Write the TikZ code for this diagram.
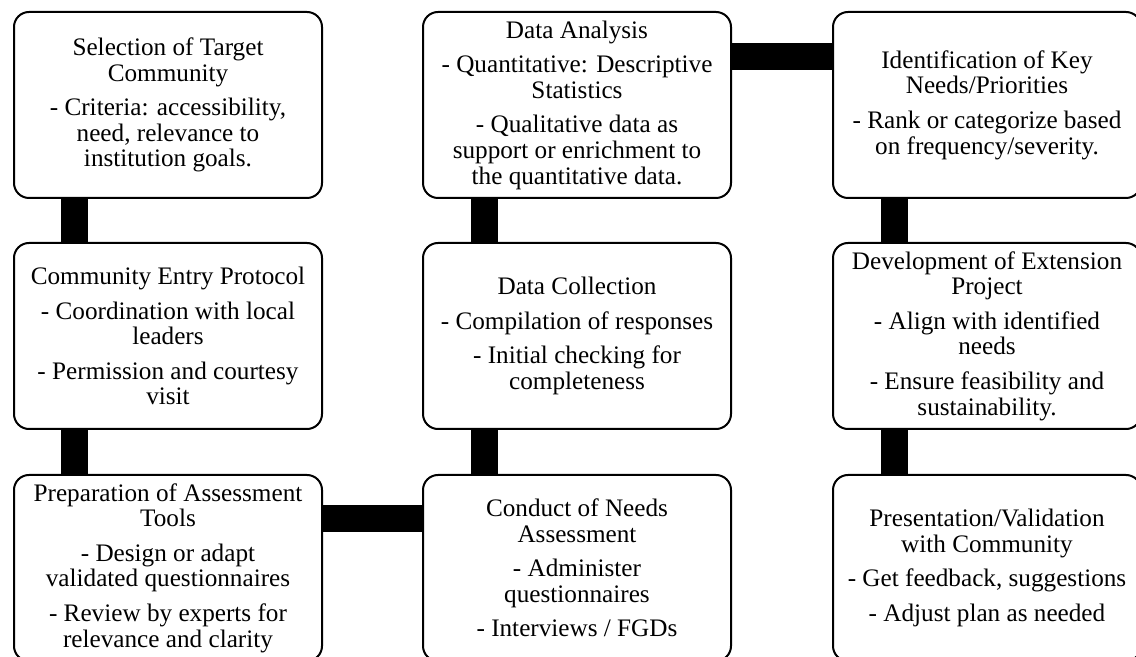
\documentclass[tikz,border=0pt]{standalone}
\usepackage{fontspec}
\setmainfont{Liberation Serif}
\usetikzlibrary{calc}

\tikzset{
  stage/.style={draw, line width=1pt, rounded corners=7.5pt, fill=white,
    minimum width=154pt, minimum height=93pt, inner sep=0pt, align=center,
    anchor=north west, font=\fontsize{12.6}{12.8}\selectfont},
  link/.style={line width=13.5pt}
}

\begin{document}
\begin{tikzpicture}[x=0.5pt,y=-0.5pt]

\useasboundingbox (0,0) rectangle (1136,657);
\def\gap{4.5pt}

% left column
\node[stage] (select) at (13,11) {Selection of Target\\Community\\[\gap]- Criteria: accessibility,\\need, relevance to\\institution goals.};
\node[stage] (entry) at (13,242) {Community Entry Protocol\\[\gap]- Coordination with local\\leaders\\[\gap]- Permission and courtesy\\visit};
\node[stage] (prep) at (13,474) {Preparation of Assessment\\Tools\\[\gap]- Design or adapt\\validated questionnaires\\[\gap]- Review by experts for\\relevance and clarity};

% middle column
\node[stage] (analysis) at (422,11) {Data Analysis\\[\gap]- Quantitative: Descriptive\\Statistics\\[\gap]- Qualitative data as\\support or enrichment to\\the quantitative data.};
\node[stage] (collect) at (422,242) {Data Collection\\[\gap]- Compilation of responses\\[\gap]- Initial checking for\\completeness};
\node[stage] (conduct) at (422,474) {Conduct of Needs\\Assessment\\[\gap]- Administer\\questionnaires\\[\gap]- Interviews / FGDs};

% right column
\node[stage] (ident) at (832,11) {Identification of Key\\Needs/Priorities\\[\gap]- Rank or categorize based\\on frequency/severity.};
\node[stage] (develop) at (832,242) {Development of Extension\\Project\\[\gap]- Align with identified\\needs\\[\gap]- Ensure feasibility and\\sustainability.};
\node[stage] (present) at (832,474) {Presentation/Validation\\with Community\\[\gap]- Get feedback, suggestions\\[\gap]- Adjust plan as needed};

% links
\draw[link] ($(select.south west)+(61,0)$) -- ($(entry.north west)+(61,0)$);
\draw[link] ($(entry.south west)+(61,0)$) -- ($(prep.north west)+(61,0)$);
\draw[link] ($(prep.north east)+(0,45)$) -- ($(conduct.north west)+(0,45)$);
\draw[link] ($(conduct.north west)+(62,0)$) -- ($(collect.south west)+(62,0)$);
\draw[link] ($(collect.north west)+(62,0)$) -- ($(analysis.south west)+(62,0)$);
\draw[link] ($(analysis.north east)+(0,46)$) -- ($(ident.north west)+(0,46)$);
\draw[link] ($(ident.south west)+(62,0)$) -- ($(develop.north west)+(62,0)$);
\draw[link] ($(develop.south west)+(62,0)$) -- ($(present.north west)+(62,0)$);

\end{tikzpicture}
\end{document}
